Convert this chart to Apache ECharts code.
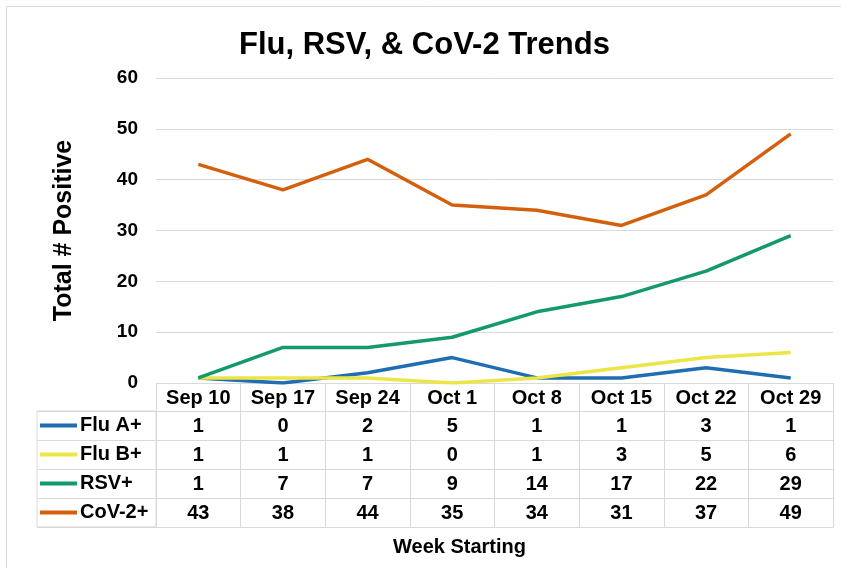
<!DOCTYPE html>
<html>
<head>
<meta charset="utf-8">
<script src="https://cdn.jsdelivr.net/npm/echarts@6/dist/echarts.min.js"></script>
<style>
html,body{margin:0;padding:0;background:#fff;}
#c{width:841px;height:568px;}
</style>
</head>
<body>
<div id="c"></div>
<script>
var weeks = ['Sep 10','Sep 17','Sep 24','Oct 1','Oct 8','Oct 15','Oct 22','Oct 29'];
var seriesNames = ['Flu A+','Flu B+','RSV+','CoV-2+'];
var fluA = [1,0,2,5,1,1,3,1];
var fluB = [1,1,1,0,1,3,5,6];
var rsv = [1,7,7,9,14,17,22,29];
var cov2 = [43,38,44,35,34,31,37,49];
var yTicks = {min:0, max:60, interval:10};
var colors = ['#1f6db2','#ece548','#14996c','#d4600e'];
var rows = [fluA, fluB, rsv, cov2];

var FONT = "'Liberation Sans', Arial, sans-serif";
var GRID_BORDER = '#d9d9d9';

var chart = echarts.init(document.getElementById('c'), null, {renderer:'canvas'});

var rowOffsets = [28, 57, 86, 115];
var rowHeights = [29, 29, 29, 29];

var xAxes = [{
  type:'category', gridIndex:0, data:weeks, position:'bottom', offset:0,
  boundaryGap:true,
  axisLine:{show:true, lineStyle:{color:GRID_BORDER, width:1}},
  axisTick:{show:true, interval:0, length:28, inside:false, lineStyle:{color:GRID_BORDER}},
  axisLabel:{show:true, interval:0, margin:5, fontSize:20, fontWeight:'bold', color:'#000', fontFamily:FONT},
  splitLine:{show:false}
}];
rows.forEach(function(r, i){
  xAxes.push({
    type:'category', gridIndex:0, data:weeks, position:'bottom', offset:rowOffsets[i],
    boundaryGap:true,
    axisLine:{show:true, lineStyle:{color:GRID_BORDER, width:1}},
    axisTick:{show:true, interval:0, length:rowHeights[i], inside:false, lineStyle:{color:GRID_BORDER}},
    axisLabel:{show:true, interval:0, margin:5, fontSize:20, fontWeight:'bold', color:'#000', fontFamily:FONT,
      formatter:(function(arr){ return function(v, idx){ return String(arr[idx]); }; })(r)},
    splitLine:{show:false}
  });
});
xAxes.push({
  type:'category', gridIndex:0, data:weeks, position:'bottom', offset:144,
  axisLine:{show:true, lineStyle:{color:GRID_BORDER, width:1}},
  axisTick:{show:false}, axisLabel:{show:false}, splitLine:{show:false}
});
xAxes.push({type:'value', gridIndex:1, min:0, max:1, show:false});

var rich = {t:{fontSize:20, fontWeight:'bold', color:'#000', fontFamily:FONT, padding:[0,0,0,3], verticalAlign:'middle'}};
colors.forEach(function(c, i){
  rich['l'+i] = {width:37, height:4, backgroundColor:c, verticalAlign:'middle'};
});

var option = {
  animation:false,
  backgroundColor:'#fff',
  title:[
    {text:'Flu, RSV, & CoV-2 Trends', left:239, top:30, padding:0,
     textStyle:{fontSize:31, fontWeight:'bold', color:'#000', fontFamily:FONT}},
    {text:'Week Starting', left:393, top:537, padding:0,
     textStyle:{fontSize:20, fontWeight:'bold', color:'#000', fontFamily:FONT}}
  ],
  graphic:[{type:'rect', shape:{x:6.5,y:6.5,width:900,height:600}, silent:true,
    style:{fill:null, stroke:'#d9d9d9', lineWidth:1}}],
  grid:[
    {left:156, right:8, top:78, bottom:185, outerBoundsMode:'none', containLabel:false},
    {left:37, width:119, top:411, height:116, show:true, borderColor:GRID_BORDER, borderWidth:1,
     backgroundColor:'transparent', outerBoundsMode:'none', containLabel:false}
  ],
  xAxis:xAxes,
  yAxis:[
    {type:'value', gridIndex:0, min:yTicks.min, max:yTicks.max, interval:yTicks.interval,
     name:'Total # Positive', nameLocation:'middle', nameRotate:90, nameGap:79,
     nameTextStyle:{fontSize:25, fontWeight:'bold', color:'#000', fontFamily:FONT},
     axisLine:{show:false}, axisTick:{show:false},
     axisLabel:{margin:18, fontSize:19, fontWeight:'bold', color:'#000', fontFamily:FONT},
     splitLine:{show:true, lineStyle:{color:'#d9d9d9', width:1}}},
    {type:'category', gridIndex:1, data:seriesNames, inverse:true,
     axisLine:{show:false}, axisTick:{show:false},
     axisLabel:{show:true, inside:true, margin:3, interval:0,
       formatter:function(v, idx){ return '{l'+idx+'|}{t|'+v+'}'; }, rich:rich},
     splitLine:{show:true, interval:0, lineStyle:{color:GRID_BORDER, width:1}}}
  ],
  series:seriesNames.map(function(n, i){
    return {name:n, type:'line', xAxisIndex:0, yAxisIndex:0, data:rows[i],
      symbol:'none', lineStyle:{width:3.5, color:colors[i]}, itemStyle:{color:colors[i]}, z:2+i};
  })
};
chart.setOption(option);
</script>
</body>
</html>
